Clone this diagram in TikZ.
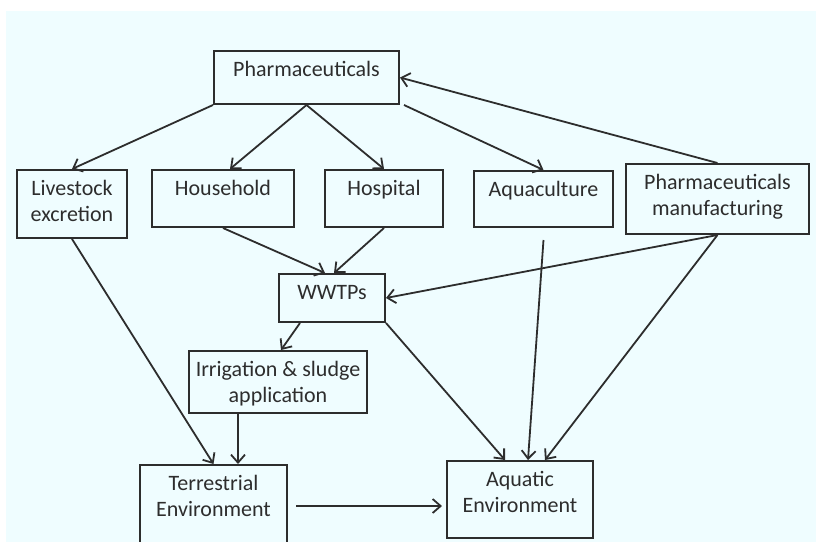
\documentclass[tikz,border=0pt]{standalone}
\usepackage{fontspec}
\setmainfont{Carlito}
\usetikzlibrary{arrows.meta, positioning}
\definecolor{bgcyan}{RGB}{239,253,255}
\definecolor{linegray}{RGB}{45,45,45}
\begin{document}
\begin{tikzpicture}[
        x=0.5pt, y=-0.5pt,
        every node/.style={font=\fontsize{11}{13}\selectfont, text=linegray},
        box/.style={rectangle, draw=linegray, line width=1pt, anchor=north, align=center, inner xsep=2pt, inner ysep=0pt, text height=12.5pt},
        twobox/.style={box, text height=25.5pt},
        arrow/.style={-{Straight Barb[length=4pt, width=7pt]}, line width=0.9pt, draw=linegray}
    ]
        \useasboundingbox (0,0) rectangle (816,542);
        \fill[bgcyan] (6,11) rectangle (816,542);
        \node[box, minimum width=92.5pt, text depth=14pt] (pharma) at (306.5,50) {Pharmaceuticals};
        \node[twobox, minimum width=55pt, text depth=8.5pt] (live) at (72,169) {Livestock\\ excretion};
        \node[box, minimum width=71pt, text depth=16pt] (house) at (223,169) {Household};
        \node[box, minimum width=59pt, text depth=16pt] (hosp) at (384,169) {Hospital};
        \node[box, minimum width=69.5pt, text depth=15.5pt] (aqua) at (543.5,170) {Aquaculture};
        \node[twobox, minimum width=91.5pt, text depth=9.5pt] (manu) at (717.5,163) {Pharmaceuticals\\ manufacturing};
        \node[box, minimum width=53pt, text depth=11.5pt] (wwtp) at (332,273) {WWTPs};
        \node[twobox, minimum width=89pt, text depth=5.5pt] (irrig) at (278,350) {Irrigation \& sludge\\ application};
        \node[twobox, minimum width=73.5pt, text depth=15.5pt] (terr) at (213.5,464) {Terrestrial\\ Environment};
        \node[twobox, minimum width=73pt, text depth=13pt] (aquatic) at (520,460) {Aquatic\\ Environment};
        % sources
        \draw[arrow] (pharma.south west) -- (live.north);
        \draw[arrow] (pharma.south) -- ([xshift=3.5pt]house.north);
        \draw[arrow] (pharma.south) -- (hosp.north);
        \draw[arrow] ([xshift=2pt]pharma.south east) -- (aqua.north);
        \draw[arrow] (manu.north) -- (pharma.east);
        % to treatment
        \draw[arrow] (house.south) -- ([xshift=-3.5pt]wwtp.north);
        \draw[arrow] (hosp.south) -- ([xshift=1pt]wwtp.north);
        \draw[arrow] (manu.south) -- (wwtp.east);
        \draw[arrow] ([xshift=-16pt]wwtp.south) -- ([xshift=1.5pt]irrig.north);
        % to environment
        \draw[arrow] (manu.south) -- ([xshift=12.5pt]aquatic.north);
        \draw[arrow] ([yshift=-6pt]aqua.south) -- ([xshift=4pt]aquatic.north);
        \draw[arrow] (wwtp.south east) -- ([xshift=-7.5pt]aquatic.north);
        \draw[arrow] ([xshift=-20pt]irrig.south) -- ([xshift=-20pt]irrig.south |- terr.north);
        \draw[arrow] (live.south) -- (terr.north);
        \draw[arrow] ([xshift=4pt]terr.east) -- ([xshift=-2pt]terr.east -| aquatic.west);
    \end{tikzpicture}
\end{document}
